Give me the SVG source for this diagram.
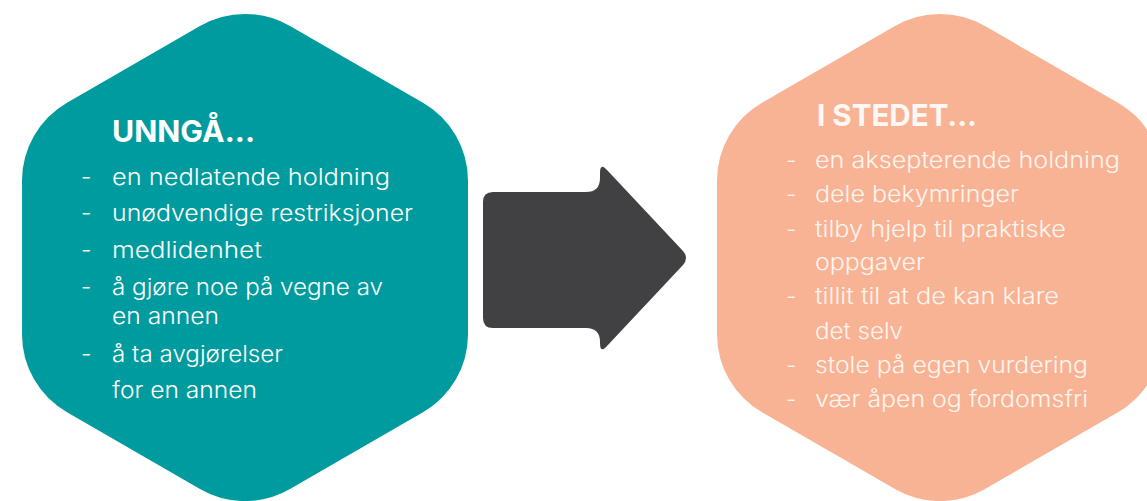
<svg xmlns="http://www.w3.org/2000/svg" width="1147" height="501" viewBox="0 0 1147 501">
<defs>
<path id="hex" d="M 45.03,-231.5 L 177.97,-154.75 A 90 90 0 0 1 223,-76.75 L 223,76.75 A 90 90 0 0 1 177.97,154.75 L 45.03,231.5 A 90 90 0 0 1 -45.03,231.5 L -177.97,154.75 A 90 90 0 0 1 -223,76.75 L -223,-76.75 A 90 90 0 0 1 -177.97,-154.75 L -45.03,-231.5 A 90 90 0 0 1 45.03,-231.5 Z"/>
</defs>
<style>
.title{font-family:Inter,"Open Sans","Liberation Sans",sans-serif;font-weight:700;font-size:30px;fill:#ffffff}
.item{font-family:Inter,"Open Sans","Liberation Sans",sans-serif;font-weight:300;font-size:23px;fill:#ffffff}
.r .item{font-size:22.5px;fill:#fff5f0}
.r .title{fill:#fff8f4}
</style>
<rect width="1147" height="501" fill="#ffffff"/>
<g id="node-unnga">
<use href="#hex" transform="translate(245,257.5)" fill="#009b9e"/>
<text class="title" x="112" y="142" textLength="143" lengthAdjust="spacingAndGlyphs">UNNGÅ...</text>
<text class="item" x="81" y="185">-</text>
<text class="item" x="112" y="185" textLength="278" lengthAdjust="spacingAndGlyphs">en nedlatende holdning</text>
<text class="item" x="81" y="221">-</text>
<text class="item" x="112" y="221" textLength="301" lengthAdjust="spacingAndGlyphs">unødvendige restriksjoner</text>
<text class="item" x="81" y="258">-</text>
<text class="item" x="112" y="258" textLength="150" lengthAdjust="spacingAndGlyphs">medlidenhet</text>
<text class="item" x="81" y="295">-</text>
<text class="item" x="112" y="295" textLength="271" lengthAdjust="spacingAndGlyphs">å gjøre noe på vegne av</text>
<text class="item" x="112" y="324" textLength="107" lengthAdjust="spacingAndGlyphs">en annen</text>
<text class="item" x="81" y="362">-</text>
<text class="item" x="112" y="362" textLength="171" lengthAdjust="spacingAndGlyphs">å ta avgjørelser</text>
<text class="item" x="112" y="398" textLength="145" lengthAdjust="spacingAndGlyphs">for en annen</text>
</g>
<g id="connectors">
<path d="M 493,192 L 586,192 Q 600,192 600,178 L 600,173 Q 600,162 607,170 L 683,251 Q 689,258 683,265 L 607,346 Q 600,354 600,343 L 600,342 Q 600,328 586,328 L 493,328 Q 483,328 483,318 L 483,202 Q 483,192 493,192 Z" fill="#414042"/>
</g>
<g id="node-i-stedet" class="r">
<use href="#hex" transform="translate(940,257.5)" fill="#f8b394"/>
<text class="title" x="817" y="126" textLength="160" lengthAdjust="spacingAndGlyphs">I STEDET...</text>
<text class="item" x="786" y="168">-</text>
<text class="item" x="815" y="168" textLength="305" lengthAdjust="spacingAndGlyphs">en aksepterende holdning</text>
<text class="item" x="786" y="202">-</text>
<text class="item" x="815" y="202" textLength="204" lengthAdjust="spacingAndGlyphs">dele bekymringer</text>
<text class="item" x="786" y="237">-</text>
<text class="item" x="815" y="237" textLength="251" lengthAdjust="spacingAndGlyphs">tilby hjelp til praktiske</text>
<text class="item" x="815" y="270" textLength="110" lengthAdjust="spacingAndGlyphs">oppgaver</text>
<text class="item" x="786" y="304">-</text>
<text class="item" x="815" y="304" textLength="244" lengthAdjust="spacingAndGlyphs">tillit til at de kan klare</text>
<text class="item" x="815" y="339" textLength="88" lengthAdjust="spacingAndGlyphs">det selv</text>
<text class="item" x="786" y="373">-</text>
<text class="item" x="815" y="373" textLength="273" lengthAdjust="spacingAndGlyphs">stole på egen vurdering</text>
<text class="item" x="786" y="407">-</text>
<text class="item" x="815" y="407" textLength="273" lengthAdjust="spacingAndGlyphs">vær åpen og fordomsfri</text>
</g>
</svg>
